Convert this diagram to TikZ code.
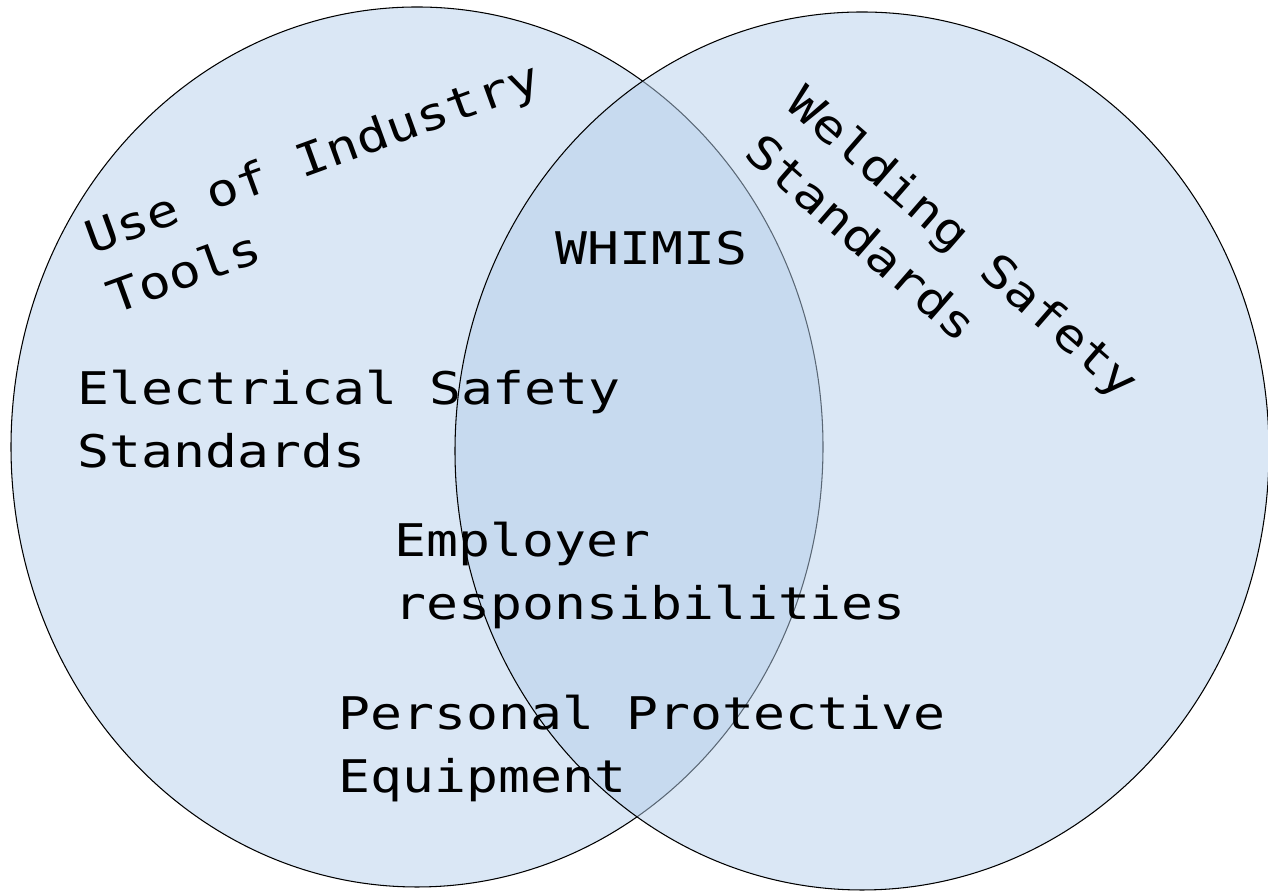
\documentclass[tikz,border=0pt]{standalone}
\usepackage{fontspec}
\usetikzlibrary{shapes.geometric}
\newfontfamily\vennfont[FakeStretch=1.18]{DejaVu Sans Mono}
\definecolor{setfill}{RGB}{218,231,245}
\definecolor{setfilltop}{RGB}{181,207,235}

\begin{document}
\begin{tikzpicture}[line width = 0.6pt,
                      set/.style = {ellipse, draw = black, fill = setfill, inner sep = 0pt},
                      settop/.style = {ellipse, draw = black, fill = setfilltop, fill opacity = 0.5, inner sep = 0pt},
                      lbl/.style = {font = \vennfont\fontsize{25.6}{36.4}\selectfont, align = left,
                                    inner sep = 0pt, anchor = base west}]
    \useasboundingbox (0, 0) rectangle (25.36, 17.82);

    % the two sets
    \node [set, minimum width = 16.24cm, minimum height = 17.6cm] (tools) at (8.34, 8.88){};
    \node [settop, minimum width = 16.28cm, minimum height = 17.56cm] (welding) at (17.24, 8.80){};

    % set titles (anchored on the last line)
    \node [lbl, rotate = 20] (toolsname) at (2.28, 11.52){Use of Industry\\Tools};
    \node [lbl, rotate = -41] (weldname) at (14.84, 14.72){Welding Safety\\Standards};

    % items
    \node [lbl] (whimis) at (11.10, 12.52){WHIMIS};
    \node [lbl] (elec) at (1.54, 8.46){Electrical Safety\\Standards};
    \node [lbl] (employer) at (7.88, 5.42){Employer\\responsibilities};
    \node [lbl] (ppe) at (6.76, 1.96){Personal Protective\\Equipment};
\end{tikzpicture}
\end{document}
